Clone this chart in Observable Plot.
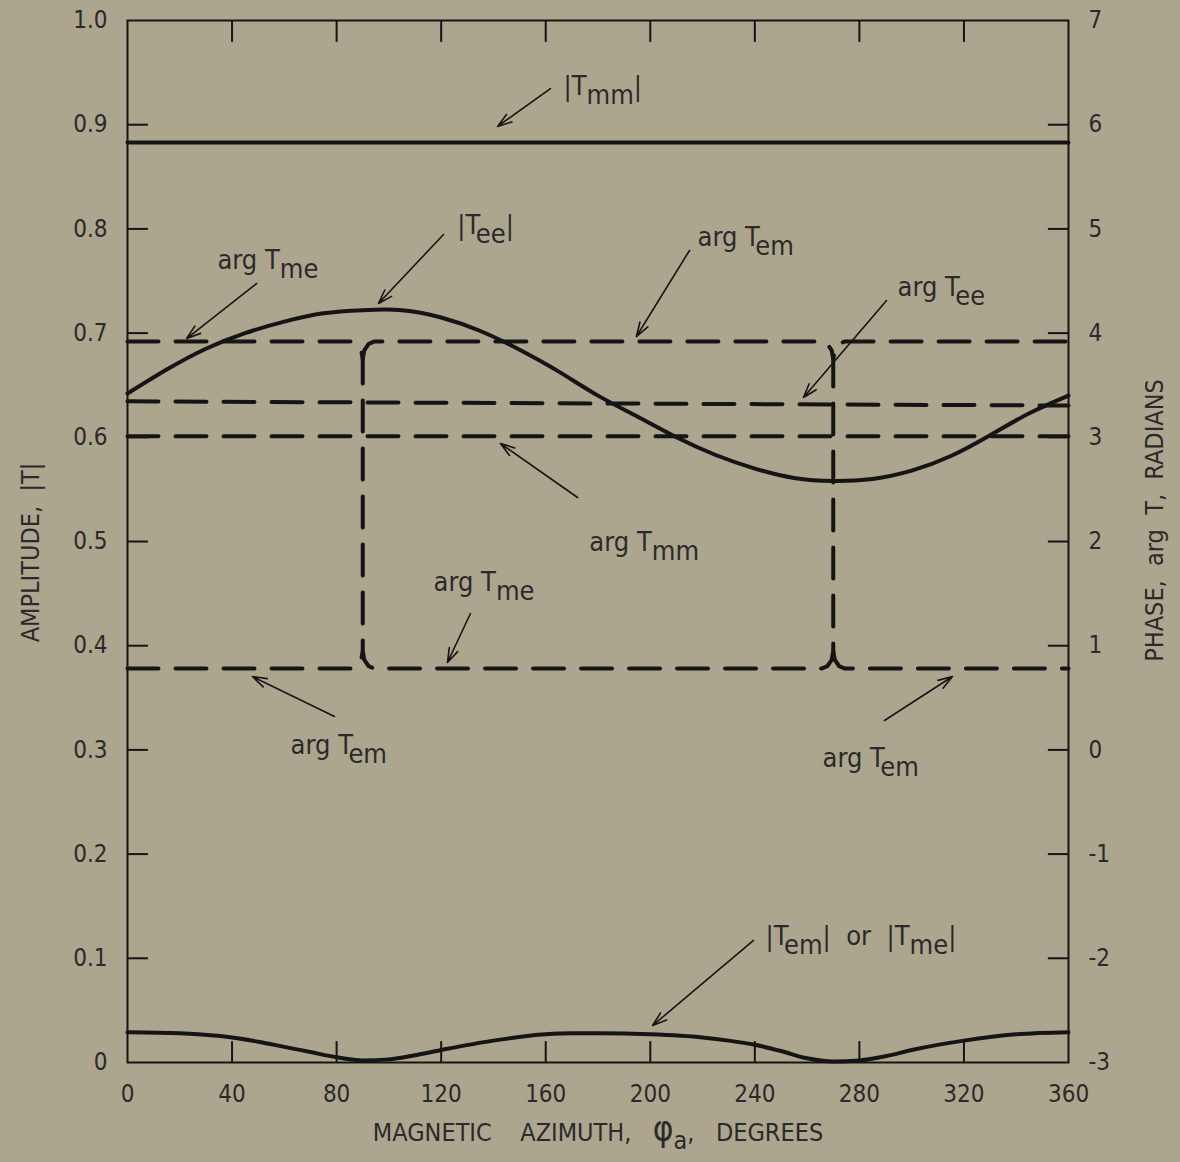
<!DOCTYPE html>
<html>
<head>
<meta charset="utf-8">
<script src="https://cdn.jsdelivr.net/npm/d3@7"></script>
<script src="https://cdn.jsdelivr.net/npm/@observablehq/plot@0.6"></script>
<style>
  html, body { margin: 0; padding: 0; background: #ada68e; }
  svg text { white-space: pre; }
</style>
</head>
<body>
<div id="chart"></div>
<script>
// ---------- data ----------
// x: magnetic azimuth (degrees); amplitudes on left axis; phases (radians) on right axis
const xTicks = [0, 40, 80, 120, 160, 200, 240, 280, 320, 360];
const ampTicks = [0, 0.1, 0.2, 0.3, 0.4, 0.5, 0.6, 0.7, 0.8, 0.9, 1.0];
const innerXTicks = [40, 80, 120, 160, 200, 240, 280, 320];
const innerYTicks = [0.1, 0.2, 0.3, 0.4, 0.5, 0.6, 0.7, 0.8, 0.9];

// |Tmm|
const tmmAz = [0, 360];
const tmmAmp = [0.883, 0.883];

// |Tee|
const teeAz = [0, 15, 30, 45, 60, 75, 90, 105, 120, 135, 150, 165, 180, 195, 210, 225, 240, 255, 270, 285, 300, 315, 330, 345, 360];
const teeAmp = [0.642, 0.665, 0.685, 0.700, 0.711, 0.719, 0.722, 0.722, 0.715, 0.702, 0.684, 0.663, 0.640, 0.620, 0.600, 0.583, 0.570, 0.561, 0.558, 0.560, 0.568, 0.582, 0.602, 0.623, 0.640];

// |Tem| or |Tme|
const temAbsAz = [0, 20, 40, 50, 60, 70, 80, 90, 100, 110, 120, 140, 160, 170, 180, 200, 220, 230, 240, 250, 260, 270, 280, 290, 300, 320, 340, 360];
const temAbsAmp = [0.029, 0.028, 0.024, 0.020, 0.015, 0.010, 0.005, 0.002, 0.003, 0.007, 0.012, 0.021, 0.027, 0.028, 0.028, 0.027, 0.024, 0.021, 0.017, 0.011, 0.004, 0.001, 0.002, 0.006, 0.012, 0.021, 0.027, 0.029];

// arg Tmm, arg Tee (radians)
const argTmmAz = [0, 360];
const argTmmPhase = [3.01, 3.01];
const argTeeAz = [0, 360];
const argTeePhase = [3.345, 3.305];

// arg Tme (continuous, including the jumps at 90 and 270 degrees)
const argTmeAz = [0, 85.5, 87.75, 89.4, 90, 90, 90.6, 92.25, 94.5, 265.5, 267.75, 269.4, 270, 270, 270.6, 272.25, 274.5, 360];
const argTmePhase = [3.92, 3.92, 3.897, 3.835, 3.75, 0.95, 0.865, 0.803, 0.78, 0.78, 0.803, 0.865, 0.95, 3.75, 3.835, 3.897, 3.92, 3.92];

// arg Tem (shares the vertical jumps with arg Tme)
const argTemAz = [0, 85.5, 87.75, 89.4, 90, 90, 90.6, 92.25, 94.5, 265.5, 267.75, 269.4, 270, 270, 270.6, 272.25, 274.5, 360];
const argTemPhase = [0.78, 0.78, 0.803, 0.865, 0.95, 3.75, 3.835, 3.897, 3.92, 3.92, 3.897, 3.835, 3.75, 0.95, 0.865, 0.803, 0.78, 0.78];
const argTemSeg = [0, 0, 0, 0, 0, 1, 1, 1, 1, 1, 1, 1, 1, 2, 2, 2, 2, 2];

// annotation labels and their arrows (data coordinates: azimuth, amplitude)
const annoText = ["|T_{mm}|", "|T_{ee}|", "arg T_{me}", "arg T_{em}", "arg T_{ee}", "arg T_{mm}", "arg T_{me}", "arg T_{em}", "arg T_{em}", "|T_{em}|  or  |T_{me}|"];
const annoX = [166.8, 126.2, 34.4, 218.1, 294.6, 176.7, 117.1, 62.4, 265.9, 244.1];
const annoY = [0.9367, 0.8033, 0.7697, 0.7917, 0.7438, 0.4990, 0.4607, 0.3042, 0.2917, 0.1209];
const arrowX1 = [161.8, 120.9, 49.4, 215.0, 290.4, 172.2, 131.2, 79.2, 289.6, 239.5];
const arrowY1 = [0.9347, 0.7946, 0.7476, 0.7793, 0.7313, 0.5422, 0.4309, 0.3321, 0.3282, 0.1171];
const arrowX2 = [141.6, 96.0, 22.6, 194.7, 258.6, 142.7, 122.4, 47.8, 315.6, 200.9];
const arrowY2 = [0.8983, 0.7284, 0.6948, 0.6967, 0.6382, 0.5940, 0.3839, 0.3704, 0.3704, 0.0355];

// ---------- build tables ----------
const toRows = (az, v, seg) => az.map((a, i) => ({az: a, v: v[i], seg: seg ? seg[i] : 0}));
const phaseToAmp = p => (p + 3) / 10; // right axis: -3..7 rad mapped onto 0..1
const tmm = toRows(tmmAz, tmmAmp);
const tee = toRows(teeAz, teeAmp);
const temAbs = toRows(temAbsAz, temAbsAmp);
const argTmm = toRows(argTmmAz, argTmmPhase);
const argTee = toRows(argTeeAz, argTeePhase);
const argTme = toRows(argTmeAz, argTmePhase);
const argTem = toRows(argTemAz, argTemPhase, argTemSeg);
const annos = annoText.map((t, i) => ({t, x: annoX[i], y: annoY[i], x1: arrowX1[i], y1: arrowY1[i], x2: arrowX2[i], y2: arrowY2[i]}));

const FONT = '"DejaVu Sans Condensed", "Liberation Sans Narrow", "DejaVu Sans", sans-serif';
const INK = "#151515";
const TXT = "#2a2a2a";
const dash = {stroke: INK, strokeWidth: 4, strokeDasharray: "31,17", strokeLinecap: "round", strokeLinejoin: "round"};

const chart = Plot.plot({
  width: 1180,
  height: 1162,
  marginLeft: 127,
  marginRight: 112,
  marginTop: 20,
  marginBottom: 100,
  style: {background: "#ada68e", fontFamily: FONT, fontSize: "24px", color: TXT, fontStretch: "condensed"},
  x: {domain: [0, 360]},
  y: {domain: [0, 1]},
  marks: [
    // inward tick marks
    Plot.ruleY(innerYTicks, {x1: 0, x2: 8, stroke: INK, strokeWidth: 2}),
    Plot.ruleY(innerYTicks, {x1: 352.3, x2: 360, stroke: INK, strokeWidth: 2}),
    Plot.ruleX(innerXTicks, {y1: 0, y2: 0.02, stroke: INK, strokeWidth: 2}),
    Plot.ruleX(innerXTicks, {y1: 0.979, y2: 1, stroke: INK, strokeWidth: 2}),
    Plot.frame({stroke: INK, strokeWidth: 2}),
    // axes (labels only)
    Plot.axisY(ampTicks, {anchor: "left", tickSize: 0, tickPadding: 20, label: null, fontSize: 24, fill: TXT,
      tickFormat: d => d === 0 ? "0" : d.toFixed(1)}),
    Plot.axisY(ampTicks, {anchor: "right", tickSize: 0, tickPadding: 20, label: null, fontSize: 24, fill: TXT,
      tickFormat: d => String(Math.round(d * 10 - 3))}),
    Plot.axisX(xTicks, {anchor: "bottom", tickSize: 0, tickPadding: 22, label: null, fontSize: 24, fill: TXT}),
    // axis titles
    Plot.text(["AMPLITUDE,  |T|"], {frameAnchor: "left", textAnchor: "middle", dx: -97, dy: 11, rotate: -90, fontSize: 25, fill: TXT}),
    Plot.text(["PHASE,  arg  T,  RADIANS"], {frameAnchor: "right", textAnchor: "middle", dx: 86, dy: -21, rotate: -90, fontSize: 25, fill: TXT}),
    Plot.text(["MAGNETIC    AZIMUTH,   φ_{a},   DEGREES"], {frameAnchor: "bottom", textAnchor: "middle", dy: 78, fontSize: 25, fill: TXT}),
    // amplitude curves
    Plot.line(tmm, {x: "az", y: "v", stroke: INK, strokeWidth: 4}),
    Plot.line(tee, {x: "az", y: "v", stroke: INK, strokeWidth: 4, curve: "natural"}),
    Plot.line(temAbs, {x: "az", y: "v", stroke: INK, strokeWidth: 4, curve: "monotone-x"}),
    // phase curves (right axis)
    Plot.line(argTmm, {x: "az", y: d => phaseToAmp(d.v), ...dash}),
    Plot.line(argTee, {x: "az", y: d => phaseToAmp(d.v), ...dash}),
    Plot.line(argTme, {x: "az", y: d => phaseToAmp(d.v), ...dash}),
    Plot.line(argTem, {x: "az", y: d => phaseToAmp(d.v), z: "seg", ...dash}),
    // annotations
    Plot.arrow(annos, {x1: "x1", y1: "y1", x2: "x2", y2: "y2", stroke: INK, strokeWidth: 1.6, headLength: 14, headAngle: 36}),
    Plot.text(annos, {x: "x", y: "y", text: "t", textAnchor: "start", fontSize: 27, fill: TXT})
  ]
});

// turn "_{..}" into real subscripts and enlarge the phi glyph
function richify(svg) {
  const NS = "http://www.w3.org/2000/svg";
  svg.querySelectorAll("text").forEach(el => {
    const s = el.textContent;
    if (!s.includes("_{") && !s.includes("φ")) return;
    while (el.firstChild) el.removeChild(el.firstChild);
    const parts = s.split(/(_\{[^}]*\}|φ)/).filter(p => p !== "");
    let shifted = false;
    parts.forEach(p => {
      const ts = document.createElementNS(NS, "tspan");
      if (p.startsWith("_{")) {
        ts.textContent = p.slice(2, -1);
        ts.setAttribute("dy", "0.32em");
        shifted = true;
      } else if (p === "φ") {
        ts.textContent = "φ";
        ts.setAttribute("font-size", "1.4em");
      } else {
        ts.textContent = p;
        if (shifted) { ts.setAttribute("dy", "-0.32em"); shifted = false; }
      }
      el.appendChild(ts);
    });
  });
}
richify(chart);
document.getElementById("chart").appendChild(chart);
</script>
</body>
</html>
